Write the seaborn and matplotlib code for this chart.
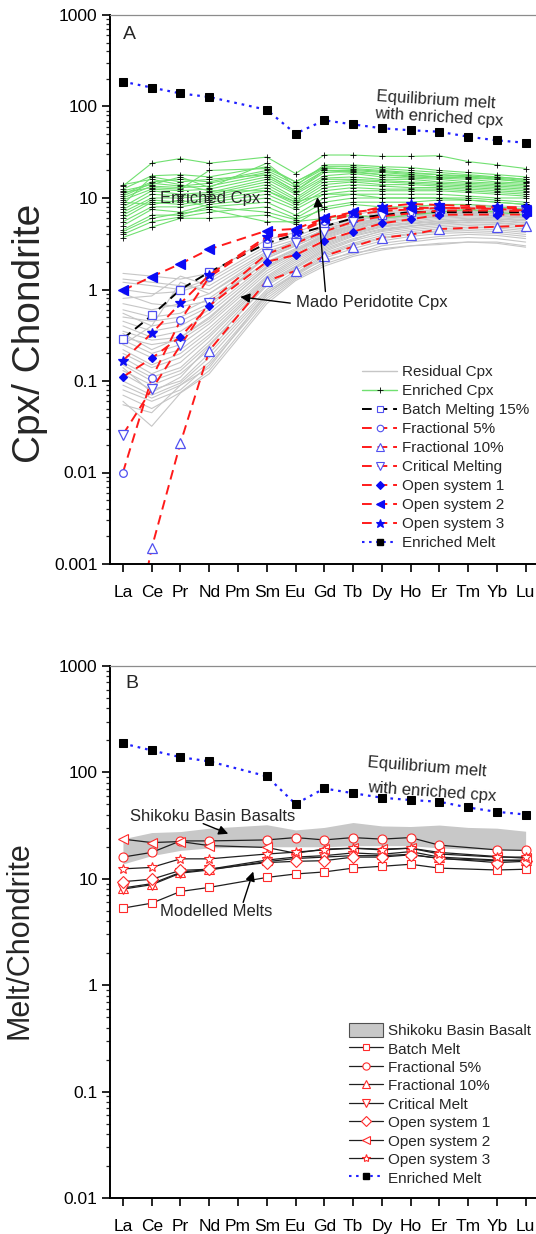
import numpy as np
import pandas as pd
import matplotlib
matplotlib.use('Agg')
import matplotlib.pyplot as plt
import seaborn as sns
from matplotlib.lines import Line2D
from matplotlib.patches import Patch
from matplotlib.ticker import FixedLocator, FuncFormatter, LogLocator, NullFormatter

sns.set_style('ticks')
plt.rcParams['font.family'] = ['Liberation Sans', 'DejaVu Sans']

# ---------------- categories ----------------
elements = ['La', 'Ce', 'Pr', 'Nd', 'Pm', 'Sm', 'Eu', 'Gd', 'Tb', 'Dy', 'Ho', 'Er', 'Tm', 'Yb', 'Lu']
ree_meas = ['La', 'Ce', 'Pr', 'Nd', 'Sm', 'Eu', 'Gd', 'Tb', 'Dy', 'Ho', 'Er', 'Tm', 'Yb', 'Lu']
ree_model = ['La', 'Ce', 'Pr', 'Nd', 'Sm', 'Eu', 'Gd', 'Tb', 'Dy', 'Ho', 'Er', 'Yb', 'Lu']

# ---------------- Panel A data (Cpx / Chondrite) ----------------
residual_cpx = [
    [1.5, 1.4, 1.3, 1.5, 3.5, 4.2, 5.5, 6.5, 7.5, 8.0, 8.3, 8.5, 8.2, 8.0],
    [1.2, 1.1, 1.0, 1.3, 3.0, 3.8, 5.0, 6.0, 7.0, 7.5, 7.8, 8.0, 7.8, 7.5],
    [1.0, 0.9, 0.95, 1.2, 2.8, 3.5, 4.8, 5.8, 6.8, 7.2, 7.5, 7.6, 7.4, 7.2],
    [0.8, 0.85, 1.4, 1.1, 2.6, 3.3, 4.5, 5.5, 6.4, 6.9, 7.2, 7.4, 7.2, 7.0],
    [0.7, 0.6, 0.7, 0.9, 2.4, 3.2, 4.3, 5.2, 6.2, 6.7, 7.0, 7.2, 7.0, 6.8],
    [0.6, 0.5, 0.55, 0.8, 2.2, 3.0, 4.2, 5.0, 6.0, 6.4, 6.8, 7.0, 6.9, 6.6],
    [0.5, 0.45, 0.5, 0.7, 2.0, 2.8, 4.0, 4.9, 5.8, 6.2, 6.6, 6.8, 6.7, 6.4],
    [0.45, 0.35, 0.4, 0.6, 1.9, 2.7, 3.8, 4.7, 5.6, 6.0, 6.4, 6.6, 6.5, 6.2],
    [0.4, 0.3, 0.35, 0.55, 1.8, 2.6, 3.7, 4.6, 5.5, 5.9, 6.3, 6.5, 6.4, 6.1],
    [0.35, 0.28, 0.3, 0.5, 1.7, 2.5, 3.6, 4.5, 5.4, 5.8, 6.2, 6.4, 6.3, 6.0],
    [0.3, 0.25, 0.28, 0.45, 1.6, 2.4, 3.4, 4.3, 5.2, 5.6, 6.0, 6.2, 6.1, 5.8],
    [0.28, 0.2, 0.25, 0.42, 1.5, 2.3, 3.3, 4.2, 5.0, 5.4, 5.8, 6.0, 5.9, 5.6],
    [0.25, 0.18, 0.22, 0.38, 1.4, 2.2, 3.2, 4.1, 4.9, 5.3, 5.6, 5.8, 5.7, 5.4],
    [0.22, 0.15, 0.2, 0.35, 1.35, 2.1, 3.1, 4.0, 4.8, 5.2, 5.5, 5.7, 5.6, 5.3],
    [0.2, 0.14, 0.18, 0.32, 1.3, 2.0, 3.0, 3.9, 4.6, 5.0, 5.3, 5.5, 5.4, 5.1],
    [0.18, 0.12, 0.16, 0.3, 1.25, 1.9, 2.9, 3.8, 4.5, 4.9, 5.2, 5.4, 5.3, 5.0],
    [0.16, 0.11, 0.14, 0.27, 1.2, 1.8, 2.8, 3.6, 4.3, 4.7, 5.0, 5.2, 5.1, 4.8],
    [0.15, 0.1, 0.13, 0.25, 1.1, 1.7, 2.6, 3.4, 4.1, 4.5, 4.8, 5.0, 4.9, 4.6],
    [0.13, 0.09, 0.12, 0.22, 1.0, 1.6, 2.5, 3.2, 3.9, 4.3, 4.6, 4.8, 4.7, 4.4],
    [0.12, 0.08, 0.1, 0.2, 0.95, 1.5, 2.4, 3.1, 3.7, 4.1, 4.4, 4.6, 4.5, 4.2],
    [0.1, 0.07, 0.095, 0.18, 0.9, 1.45, 2.3, 3.0, 3.6, 4.0, 4.3, 4.4, 4.3, 4.0],
    [0.09, 0.065, 0.09, 0.16, 0.85, 1.4, 2.2, 2.8, 3.4, 3.8, 4.1, 4.2, 4.1, 3.8],
    [0.08, 0.06, 0.08, 0.15, 0.8, 1.35, 2.0, 2.6, 3.2, 3.5, 3.8, 4.0, 3.9, 3.6],
    [0.07, 0.05, 0.075, 0.13, 0.75, 1.3, 1.9, 2.4, 3.0, 3.3, 3.6, 3.7, 3.6, 3.3],
    [0.06, 0.032, 0.074, 0.12, 0.7, 1.25, 1.8, 2.3, 2.7, 3.0, 3.2, 3.3, 3.3, 3.0],
    [0.055, 0.045, 0.09, 0.14, 0.9, 1.5, 2.1, 2.5, 2.8, 3.0, 3.1, 3.3, 3.2, 2.9],
    [1.3, 1.2, 1.1, 1.0, 2.5, 3.4, 4.4, 5.3, 6.0, 6.5, 7.0, 7.3, 7.4, 7.2],
    [0.9, 0.7, 0.65, 0.75, 2.0, 2.7, 3.9, 4.8, 5.8, 6.6, 7.0, 7.6, 7.8, 7.7],
    [0.55, 0.4, 0.45, 0.65, 2.3, 3.1, 4.6, 5.6, 6.6, 7.1, 7.5, 7.9, 7.7, 7.3],
    [0.33, 0.22, 0.3, 0.48, 1.75, 2.6, 3.9, 5.0, 6.1, 6.7, 7.1, 7.3, 7.1, 6.9],
    [0.25, 0.4, 1.2, 0.9, 2.2, 3.0, 4.1, 5.0, 5.9, 6.3, 6.7, 6.9, 6.8, 6.5],
    [0.14, 0.075, 0.11, 0.24, 1.15, 1.75, 2.7, 3.5, 4.4, 4.9, 5.4, 5.8, 5.9, 5.7],
]

enriched_cpx = [
    [13.5, 24, 27, 24, 28, 18.5, 29.5, 29.5, 28.5, 28.5, 29, 25, 23, 21],
    [12.5, 17.5, 18, 17, 22, 15, 22, 22, 21, 20, 19, 18, 17, 16],
    [11, 15, 16, 15, 20, 14, 21, 21, 20, 19, 18, 17.5, 16.5, 15.5],
    [10.5, 14.5, 13.5, 14.5, 19, 13, 20, 20, 19, 18, 17, 17, 16, 15],
    [10, 13.5, 13, 13.5, 18, 12, 19, 19.5, 18, 17, 16.5, 16, 15, 14.5],
    [9.5, 12.5, 12, 12.5, 17, 11.5, 17.5, 18.5, 17, 16.5, 16, 15, 14.5, 14],
    [8, 12, 11, 11.5, 16, 11, 16.5, 17, 16, 16, 15, 14.5, 14, 13.5],
    [7.5, 11, 10.5, 11, 15, 10, 16, 16, 15.5, 15, 14.5, 14, 13.5, 13],
    [7, 10, 10, 10.5, 14, 9.5, 15, 15.5, 15, 14.5, 14, 13.5, 13, 12.5],
    [6.5, 9.5, 9, 10, 13, 9, 14, 15, 14, 14, 13.5, 13, 12.5, 12],
    [6, 9, 8.5, 9.5, 12, 8.5, 13, 14, 13.5, 13, 13, 12.5, 12, 11.5],
    [5.5, 8, 8, 9, 11, 8, 12, 13, 12.5, 12.5, 12.5, 12, 11.5, 11],
    [5, 7.5, 7, 8.5, 10, 7.5, 11, 12, 12, 12, 12, 11.5, 11, 10.5],
    [4.5, 6.5, 6.5, 8, 9, 6.5, 10, 11, 11, 11, 11, 10.5, 10, 10],
    [4, 5.5, 6.2, 7, 8, 6, 9, 10, 10, 10, 10, 10, 9.5, 9],
    [3.7, 4.8, 6, 6, 6.5, 5.2, 8, 9, 9, 9, 9.5, 9.5, 9, 8.5],
    [14, 16, 14, 12, 12, 9, 11, 11, 10, 10, 10, 9.5, 9, 8.5],
    [8.5, 17, 15, 16, 18, 12, 20, 19, 18, 17.5, 17, 16.5, 16, 15],
    [11.5, 13, 12.5, 20, 21, 15, 21.5, 20.5, 19.5, 18.5, 18, 17, 17, 16],
    [4.3, 6, 6.8, 7.5, 5.5, 5.5, 6, 6.5, 6, 6.5, 7, 7.5, 7, 6.5],
    [9, 8.5, 9.5, 8, 7, 5.8, 7.5, 8.5, 8, 8, 8.5, 8.5, 8, 7.5],
    [12, 14, 17, 13, 24, 13.5, 23, 23, 22, 21.5, 20, 19, 18, 17],
]

# model residues (La..Nd, Sm..Er, Yb, Lu)
batch_15 = [0.29, 0.52, 1.0, 1.55, 3.2, 4.0, 4.9, 6.0, 6.5, 7.0, 7.0, 7.0, 7.0]
fractional_5 = [0.01, 0.107, 0.46, 1.37, 3.6, 4.1, 5.6, 6.5, 7.2, 7.5, 7.8, 7.8, 7.6]
fractional_10 = [4e-5, 0.0015, 0.021, 0.215, 1.24, 1.6, 2.32, 2.94, 3.68, 3.97, 4.58, 4.85, 4.98]
critical = [0.026, 0.081, 0.245, 0.72, 2.44, 3.2, 4.3, 5.5, 6.3, 6.8, 7.3, 7.3, 7.2]
open_1 = [0.111, 0.177, 0.305, 0.665, 2.01, 2.38, 3.41, 4.28, 5.29, 5.85, 6.57, 6.6, 6.6]
open_2 = [0.98, 1.38, 1.91, 2.75, 4.4, 4.6, 6.0, 7.0, 7.6, 7.8, 7.8, 7.6, 7.3]
open_3 = [0.167, 0.332, 0.706, 1.44, 3.78, 4.2, 5.9, 6.8, 8.0, 8.6, 8.4, 8.0, 7.9]

# equilibrium melt with enriched cpx (both panels)
enriched_melt = [187, 161, 139, 127, 92, 50.5, 70.6, 63.8, 57.8, 55, 53, 46.8, 42.6, 40.2]

# ---------------- Panel B data (Melt / Chondrite) ----------------
shikoku_high = [23.8, 27.2, 27.8, 29.9, 32.2, 28.8, 30.4, 33.8, 31.4, 31.0, 32.0, 30.4, 29.9, 28.0]
shikoku_low = [13.8, 16.5, 18.5, 19.5, 20.0, 20.0, 20.0, 20.5, 20.5, 20.5, 19.5, 19.0, 19.0, 19.0]

melt_batch = [5.3, 5.9, 7.6, 8.3, 10.3, 11.1, 11.6, 12.6, 13.1, 13.7, 12.6, 12.1, 12.3]
melt_frac_5 = [16.0, 17.7, 22.7, 22.7, 23.2, 24.4, 23.2, 24.4, 23.6, 24.4, 20.7, 18.7, 18.5]
melt_frac_10 = [8.2, 9.0, 11.5, 12.3, 15.0, 16.0, 16.5, 17.5, 17.0, 18.0, 16.0, 15.0, 15.0]
melt_critical = [8.0, 8.8, 11.3, 12.1, 14.5, 15.5, 16.0, 16.5, 16.5, 17.0, 15.5, 14.8, 14.8]
melt_open_1 = [9.4, 9.9, 12.0, 12.3, 14.2, 14.6, 14.8, 16.0, 16.0, 16.8, 15.6, 14.2, 14.6]
melt_open_2 = [23.6, 21.9, 22.4, 20.5, 19.7, 17.4, 19.0, 19.4, 19.0, 19.4, 17.7, 16.2, 15.6]
melt_open_3 = [12.4, 12.8, 15.4, 15.4, 17.1, 17.8, 18.7, 19.4, 18.7, 19.4, 17.1, 16.0, 16.0]

pos = {e: i for i, e in enumerate(elements)}


def long_df(rows, elems):
    recs = []
    for s, row in enumerate(rows):
        for e, v in zip(elems, row):
            recs.append({'sample': s, 'pos': pos[e], 'value': v})
    return pd.DataFrame(recs)


def one_df(vals, elems):
    return pd.DataFrame({'pos': [pos[e] for e in elems], 'value': vals})


# ---------------- figure ----------------
W, H = 536, 1234
fig = plt.figure(figsize=(W / 100, H / 100), dpi=100)
axA = fig.add_axes([110 / W, 1 - 564 / H, 430 / W, (564 - 15) / H])
axB = fig.add_axes([110 / W, 1 - 1198 / H, 430 / W, (1198 - 666) / H])

RED = '#ff1a1a'
BLUE_F = '#0b0bf5'
BLUE_O = '#5050f0'
GREEN = '#70e070'
GRAY = '#c6c6c6'
DASH = (0, (5, 3))

# ---- Panel A ----
sns.lineplot(data=long_df(residual_cpx, ree_meas), x='pos', y='value', units='sample',
             estimator=None, sort=False, color=GRAY, lw=0.8, ax=axA, legend=False)
sns.lineplot(data=long_df(enriched_cpx, ree_meas), x='pos', y='value', units='sample',
             estimator=None, sort=False, color=GREEN, lw=0.8, marker='+', markersize=5,
             markeredgecolor='black', markeredgewidth=0.6, ax=axA, legend=False)

models_A = [
    (batch_15, 'Batch Melting 15%', 'black', 's', 'white', BLUE_O),
    (fractional_5, 'Fractional 5%', RED, 'o', 'white', BLUE_O),
    (fractional_10, 'Fractional 10%', RED, '^', 'white', BLUE_O),
    (critical, 'Critical Melting', RED, 'v', 'white', BLUE_O),
    (open_1, 'Open system 1', RED, 'D', BLUE_F, BLUE_F),
    (open_2, 'Open system 2', RED, '<', BLUE_F, BLUE_F),
    (open_3, 'Open system 3', RED, '*', BLUE_F, BLUE_F),
]
msA = {'s': 5.5, 'o': 5.5, '^': 6.5, 'v': 6.5, 'D': 4.5, '<': 6.5, '*': 7.5}
for vals, lab, lc, mk, mfc, mec in models_A:
    sns.lineplot(data=one_df(vals, ree_model), x='pos', y='value', ax=axA, color=lc,
                 lw=1.4, linestyle=DASH, marker=mk, markersize=msA[mk], markerfacecolor=mfc,
                 markeredgecolor=mec, markeredgewidth=0.9, legend=False)

for ax in (axA, axB):
    sns.lineplot(data=one_df(enriched_melt, ree_meas), x='pos', y='value', ax=ax,
                 color='#2020ff', lw=1.6, linestyle=(0, (1.2, 2.2)), marker='s', markersize=5.5,
                 markerfacecolor='black', markeredgecolor='black', legend=False)

# ---- Panel B ----
band = pd.DataFrame({'pos': [pos[e] for e in ree_meas], 'low': shikoku_low, 'high': shikoku_high})
axB.fill_between(band['pos'], band['low'], band['high'], color='#c8c8c8', lw=0, zorder=1)

models_B = [
    (melt_batch, 'Batch Melt', 's'),
    (melt_frac_5, 'Fractional 5%', 'o'),
    (melt_frac_10, 'Fractional 10%', '^'),
    (melt_critical, 'Critical Melt', 'v'),
    (melt_open_1, 'Open system 1', 'D'),
    (melt_open_2, 'Open system 2', '<'),
    (melt_open_3, 'Open system 3', '*'),
]
msB = {'s': 5.5, 'o': 6.5, '^': 6.5, 'v': 6.5, 'D': 6, '<': 7, '*': 7.5}
for vals, lab, mk in models_B:
    sns.lineplot(data=one_df(vals, ree_model), x='pos', y='value', ax=axB, color='#202020',
                 lw=0.9, marker=mk, markersize=msB[mk], markerfacecolor='white',
                 markeredgecolor='#ff2a2a', markeredgewidth=0.8, legend=False)

# ---------------- axes styling ----------------
def fmt(v, _):
    return '%g' % v

for ax, lo in ((axA, 1e-3), (axB, 1e-2)):
    ax.set_yscale('log')
    ax.set_ylim(lo, 1000)
    ax.set_xlim(-0.45, 14.5)
    ax.set_xticks(range(len(elements)))
    ax.set_xticklabels(elements)
    ax.yaxis.set_major_locator(FixedLocator([10.0 ** k for k in range(int(np.log10(lo)), 4)]))
    ax.yaxis.set_major_formatter(FuncFormatter(fmt))
    ax.yaxis.set_minor_locator(LogLocator(base=10, subs=np.arange(2, 10), numticks=20))
    ax.yaxis.set_minor_formatter(NullFormatter())
    ax.tick_params(axis='both', which='major', direction='out', length=6, width=1.2,
                   labelsize=12.5, colors='black', pad=3)
    ax.tick_params(axis='x', which='major', pad=9)
    ax.tick_params(axis='y', which='minor', direction='out', length=3, width=0.9)
    ax.set_xlabel('')
    ax.set_ylabel('')
    for s in ('left', 'bottom'):
        ax.spines[s].set_linewidth(1.4)
        ax.spines[s].set_color('black')
    ax.spines['top'].set_visible(True)
    ax.spines['top'].set_color('#8c8c8c')
    ax.spines['top'].set_linewidth(0.9)
    ax.spines['right'].set_visible(False)
    ax.set_facecolor('white')

fig.text(30 / W, 1 - 333 / H, 'Cpx/ Chondrite', rotation=90, ha='center', va='center', fontsize=28)
fig.text(20 / W, 1 - 940 / H, 'Melt/Chondrite', rotation=90, ha='center', va='center', fontsize=22)

axA.text(0.03, 0.965, 'A', transform=axA.transAxes, fontsize=14, ha='left', va='center')
axB.text(0.035, 0.968, 'B', transform=axB.transAxes, fontsize=14, ha='left', va='center')

# annotations A
axA.text(1.29, 10, 'Enriched Cpx', fontsize=12, ha='left', va='center')
axA.text(8.8, 118, 'Equilibrium melt', fontsize=12, ha='left', va='center', rotation=-3.5)
axA.text(8.72, 75, 'with enriched cpx', fontsize=12, ha='left', va='center', rotation=-3.5)
axA.text(6.0, 0.72, 'Mado Peridotite Cpx', fontsize=12, ha='left', va='center')
arrow = dict(arrowstyle='-|>', color='black', lw=1.0, mutation_scale=14, shrinkA=0, shrinkB=0)
axA.annotate('', xy=(4.08, 0.83), xytext=(5.82, 0.71), arrowprops=arrow)
axA.annotate('', xy=(6.76, 10.2), xytext=(7.04, 0.95), arrowprops=arrow)

# annotations B
axB.text(0.24, 38.5, 'Shikoku Basin Basalts', fontsize=12, ha='left', va='center')
axB.annotate('', xy=(3.66, 26.5), xytext=(2.79, 33), arrowprops=arrow)
axB.text(1.29, 4.9, 'Modelled Melts', fontsize=12, ha='left', va='center')
axB.annotate('', xy=(4.53, 11.7), xytext=(4.18, 6.0), arrowprops=arrow)
axB.text(8.5, 113, 'Equilibrium melt', fontsize=12, ha='left', va='center', rotation=-4.5)
axB.text(8.47, 66, 'with enriched cpx', fontsize=12, ha='left', va='center', rotation=-4.0)

# ---------------- legends ----------------
hA = [Line2D([], [], color=GRAY, lw=1.0, label='Residual Cpx'),
      Line2D([], [], color=GREEN, lw=1.0, marker='+', markersize=5, markeredgecolor='black',
             markeredgewidth=0.6, label='Enriched Cpx')]
for vals, lab, lc, mk, mfc, mec in models_A:
    hA.append(Line2D([], [], color=lc, lw=1.4, linestyle=DASH, marker=mk,
                     markersize=msA[mk] * 0.85, markerfacecolor=mfc, markeredgecolor=mec,
                     markeredgewidth=0.8, label=lab))
hA.append(Line2D([], [], color='#2020ff', lw=1.5, linestyle=(0, (1.2, 2.2)), marker='s',
                 markersize=4.5, markerfacecolor='black', markeredgecolor='black',
                 label='Enriched Melt'))
axA.legend(handles=hA, loc='upper left', bbox_to_anchor=(362 / W, 1 - 365 / H),
           bbox_transform=fig.transFigure, frameon=False, fontsize=11, borderpad=0,
           borderaxespad=0, handlelength=2.3, handletextpad=0.35, labelspacing=0.33,
           numpoints=1)

hB = [Patch(facecolor='#c8c8c8', edgecolor='#505050', lw=0.8, label='Shikoku Basin Basalt')]
for vals, lab, mk in models_B:
    hB.append(Line2D([], [], color='#202020', lw=0.9, marker=mk, markersize=msB[mk] * 0.8,
                     markerfacecolor='white', markeredgecolor='#ff2a2a', markeredgewidth=0.8,
                     label=lab))
hB.append(Line2D([], [], color='#2020ff', lw=1.5, linestyle=(0, (1.2, 2.2)), marker='s',
                 markersize=4.5, markerfacecolor='black', markeredgecolor='black',
                 label='Enriched Melt'))
axB.legend(handles=hB, loc='upper left', bbox_to_anchor=(349 / W, 1 - 1023 / H),
           bbox_transform=fig.transFigure, frameon=False, fontsize=11, borderpad=0,
           borderaxespad=0, handlelength=2.2, handletextpad=0.35, labelspacing=0.22,
           handleheight=1.0, numpoints=1)

fig.savefig('out.png', dpi=100, facecolor='white')
